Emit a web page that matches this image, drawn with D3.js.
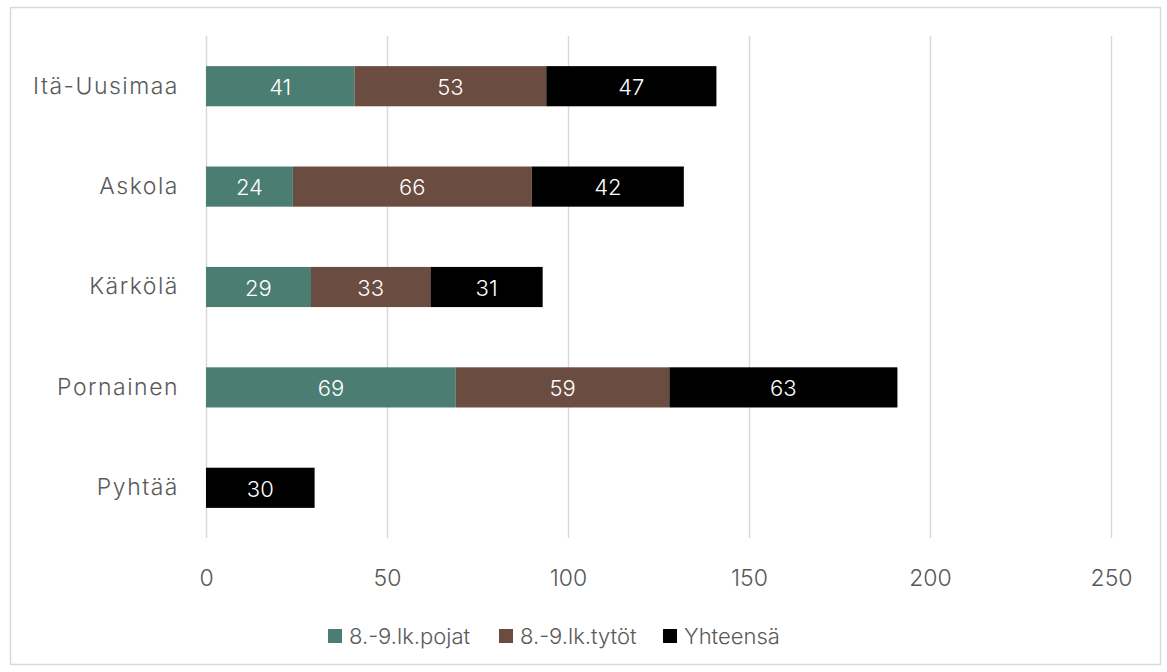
<!DOCTYPE html>
<html><head><meta charset="utf-8">
<script src="https://cdn.jsdelivr.net/npm/d3@7"></script>
<style>
html,body{margin:0;padding:0;background:#fff;}
svg text{font-family:Inter,"Open Sans",sans-serif;}
</style></head>
<body>
<svg id="chart" width="1167" height="672"></svg>
<script>
const categories = ["Itä-Uusimaa","Askola","Kärkölä","Pornainen","Pyhtää"];
const seriesNames = ["8.-9.lk.pojat","8.-9.lk.tytöt","Yhteensä"];
const pojat = [41,24,29,69,null];
const tytot = [53,66,33,59,null];
const yhteensa = [47,42,31,63,30];
const colors = ["#4b7d72","#6a4c40","#000000"];
const xTicks = [0,50,100,150,200,250];

const svg = d3.select("#chart");
svg.append("rect").attr("x",10.5).attr("y",7.5).attr("width",1150).attr("height",657)
  .attr("fill","#fff").attr("stroke","#d9d9d9").attr("stroke-width",1.5);

const x = d3.scaleLinear().domain([0,250]).range([206,1111]);
const y = d3.scaleBand().domain(categories).range([36,538]).paddingInner(0.6).paddingOuter(0.3);

// grid
svg.append("g").selectAll("line").data(xTicks).join("line")
  .attr("x1",d=>x(d)+0.5).attr("x2",d=>x(d)+0.5).attr("y1",36).attr("y2",538)
  .attr("stroke","#d9d9d9").attr("stroke-width",1.5);

// axis labels
const xAxis = d3.axisBottom(x).tickValues(xTicks).tickSize(0).tickPadding(0);
const gx = svg.append("g").attr("transform","translate(0,578)").call(xAxis);
gx.select(".domain").remove();
gx.selectAll("text").attr("font-size",23).attr("fill","#595959").attr("font-weight",300)
  .attr("y",0).attr("dy","0.35em").style("font-family","Inter,'Open Sans',sans-serif");

const yAxis = d3.axisLeft(y).tickSize(0).tickPadding(27);
const gy = svg.append("g").attr("transform","translate(206,0)").call(yAxis);
gy.select(".domain").remove();
gy.selectAll("text").attr("font-size",23).attr("fill","#595959").attr("font-weight",300)
  .attr("letter-spacing","1.5px")
  .style("font-family","Inter,'Open Sans',sans-serif");

const data = categories.map((c,i)=>({cat:c, s0:pojat[i]||0, s1:tytot[i]||0, s2:yhteensa[i]||0, raw:[pojat[i],tytot[i],yhteensa[i]]}));
const stack = d3.stack().keys(["s0","s1","s2"])(data);

stack.forEach((layer,si)=>{
  const g = svg.append("g");
  layer.forEach((seg,di)=>{
    const v = data[di].raw[si];
    if(v==null) return;
    g.append("rect").attr("x",x(seg[0])).attr("width",x(seg[1])-x(seg[0]))
      .attr("y",y(data[di].cat)).attr("height",y.bandwidth()).attr("fill",colors[si]);
    g.append("text").attr("x",(x(seg[0])+x(seg[1]))/2).attr("y",y(data[di].cat)+y.bandwidth()/2+1)
      .attr("dy","0.35em").attr("text-anchor","middle").attr("fill","#fff")
      .attr("font-size",22).attr("font-weight",300).text(v);
  });
});

// legend
const legX = [328,499,663];
const lg = svg.append("g");
seriesNames.forEach((n,i)=>{
  lg.append("rect").attr("x",legX[i]).attr("y",629).attr("width",14).attr("height",14).attr("fill",colors[i]);
  lg.append("text").attr("x",legX[i]+21).attr("y",636).attr("dy","0.35em")
    .attr("font-size",22).attr("fill","#595959").attr("font-weight",300)
    .text(n);
});
</script>
</body></html>
